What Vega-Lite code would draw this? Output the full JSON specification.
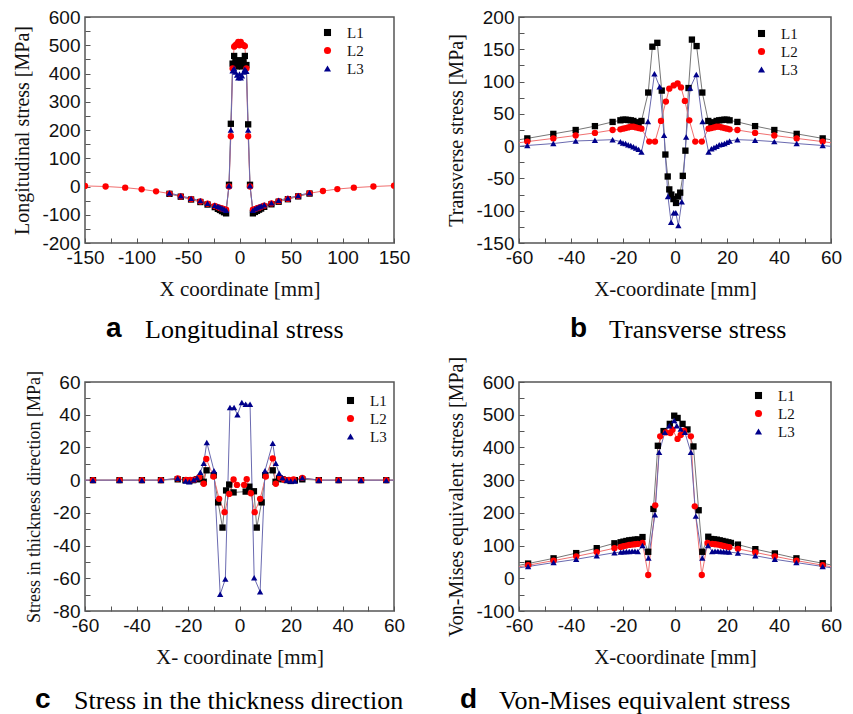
{
"$schema": "https://vega.github.io/schema/vega-lite/v6.json",
"padding": {"left": 12, "top": 7, "right": 0, "bottom": 0},
"background": "white",
"config": {
 "view": {"stroke": "#555", "strokeWidth": 1.5},
 "axis": {"grid": false, "domain": false, "tickColor": "#555", "tickSize": -5, "labelFont": "Liberation Sans", "labelFontSize": 19, "labelColor": "#111", "labelPadding": 10, "labelFlush": false, "labelOverlap": false, "titleFont": "Liberation Serif", "titleFontSize": 20, "titleFontWeight": "normal", "titleColor": "#111"},
 "axisX": {"titlePadding": 11, "titleFontSize": 21},
 "axisY": {"titlePadding": 9},
 "title": {"font": "Liberation Sans", "fontWeight": "bold", "fontSize": 28, "color": "#000", "subtitleFont": "Liberation Serif", "subtitleFontSize": 26, "subtitleColor": "#000", "subtitlePadding": -26, "orient": "bottom", "anchor": "start", "frame": "group"},
 "legend": {"orient": "none", "labelFont": "Liberation Serif", "labelFontSize": 15, "labelColor": "#111", "symbolSize": 50, "labelOffset": 12, "rowPadding": 2, "padding": 0}
},
"data": {"values": [
{"p":"a","s":"L1","x":-68,"y":-26},{"p":"a","s":"L1","x":-57,"y":-36},{"p":"a","s":"L1","x":-47,"y":-46},{"p":"a","s":"L1","x":-38,"y":-55},{"p":"a","s":"L1","x":-31,"y":-64},{"p":"a","s":"L1","x":-24,"y":-73},{"p":"a","s":"L1","x":-21,"y":-79},{"p":"a","s":"L1","x":-19,"y":-83},{"p":"a","s":"L1","x":-17,"y":-87},{"p":"a","s":"L1","x":-15,"y":-91},{"p":"a","s":"L1","x":-13,"y":-95},{"p":"a","s":"L1","x":-10.2,"y":6},{"p":"a","s":"L1","x":-8.4,"y":222},{"p":"a","s":"L1","x":-6.7,"y":435},{"p":"a","s":"L1","x":-5.2,"y":462},{"p":"a","s":"L1","x":-3.9,"y":440},{"p":"a","s":"L1","x":-2.4,"y":425},{"p":"a","s":"L1","x":-1.2,"y":430},{"p":"a","s":"L1","x":0,"y":447},{"p":"a","s":"L1","x":1.2,"y":430},{"p":"a","s":"L1","x":2.4,"y":425},{"p":"a","s":"L1","x":3.9,"y":440},{"p":"a","s":"L1","x":5.2,"y":462},{"p":"a","s":"L1","x":6.7,"y":430},{"p":"a","s":"L1","x":8.4,"y":220},{"p":"a","s":"L1","x":10.2,"y":6},{"p":"a","s":"L1","x":13,"y":-95},{"p":"a","s":"L1","x":15,"y":-90},{"p":"a","s":"L1","x":17,"y":-86},{"p":"a","s":"L1","x":19,"y":-82},{"p":"a","s":"L1","x":21,"y":-78},{"p":"a","s":"L1","x":24,"y":-72},{"p":"a","s":"L1","x":31,"y":-63},{"p":"a","s":"L1","x":38,"y":-54},{"p":"a","s":"L1","x":47,"y":-45},{"p":"a","s":"L1","x":57,"y":-35},{"p":"a","s":"L1","x":68,"y":-25},
{"p":"a","s":"L2","x":-150,"y":2},{"p":"a","s":"L2","x":-130,"y":0},{"p":"a","s":"L2","x":-111,"y":-4},{"p":"a","s":"L2","x":-95,"y":-10},{"p":"a","s":"L2","x":-81,"y":-17},{"p":"a","s":"L2","x":-68,"y":-25},{"p":"a","s":"L2","x":-57,"y":-35},{"p":"a","s":"L2","x":-47,"y":-45},{"p":"a","s":"L2","x":-38,"y":-53},{"p":"a","s":"L2","x":-31,"y":-61},{"p":"a","s":"L2","x":-24,"y":-69},{"p":"a","s":"L2","x":-21,"y":-73},{"p":"a","s":"L2","x":-19,"y":-76},{"p":"a","s":"L2","x":-17,"y":-78},{"p":"a","s":"L2","x":-15,"y":-80},{"p":"a","s":"L2","x":-13,"y":-82},{"p":"a","s":"L2","x":-10.2,"y":0},{"p":"a","s":"L2","x":-8.4,"y":178},{"p":"a","s":"L2","x":-6.7,"y":418},{"p":"a","s":"L2","x":-5.2,"y":495},{"p":"a","s":"L2","x":-3.9,"y":500},{"p":"a","s":"L2","x":-2.4,"y":505},{"p":"a","s":"L2","x":-1.2,"y":512},{"p":"a","s":"L2","x":0,"y":500},{"p":"a","s":"L2","x":1.2,"y":512},{"p":"a","s":"L2","x":2.4,"y":503},{"p":"a","s":"L2","x":3.9,"y":500},{"p":"a","s":"L2","x":5.2,"y":497},{"p":"a","s":"L2","x":6.7,"y":418},{"p":"a","s":"L2","x":8.4,"y":178},{"p":"a","s":"L2","x":10.2,"y":0},{"p":"a","s":"L2","x":13,"y":-82},{"p":"a","s":"L2","x":15,"y":-80},{"p":"a","s":"L2","x":17,"y":-77},{"p":"a","s":"L2","x":19,"y":-75},{"p":"a","s":"L2","x":21,"y":-72},{"p":"a","s":"L2","x":24,"y":-68},{"p":"a","s":"L2","x":31,"y":-60},{"p":"a","s":"L2","x":38,"y":-52},{"p":"a","s":"L2","x":47,"y":-44},{"p":"a","s":"L2","x":57,"y":-34},{"p":"a","s":"L2","x":68,"y":-24},{"p":"a","s":"L2","x":81,"y":-16},{"p":"a","s":"L2","x":95,"y":-9},{"p":"a","s":"L2","x":111,"y":-4},{"p":"a","s":"L2","x":130,"y":0},{"p":"a","s":"L2","x":150,"y":3},
{"p":"a","s":"L3","x":-68,"y":-23},{"p":"a","s":"L3","x":-57,"y":-33},{"p":"a","s":"L3","x":-47,"y":-42},{"p":"a","s":"L3","x":-38,"y":-50},{"p":"a","s":"L3","x":-31,"y":-59},{"p":"a","s":"L3","x":-24,"y":-66},{"p":"a","s":"L3","x":-21,"y":-70},{"p":"a","s":"L3","x":-19,"y":-73},{"p":"a","s":"L3","x":-17,"y":-76},{"p":"a","s":"L3","x":-15,"y":-80},{"p":"a","s":"L3","x":-13,"y":-84},{"p":"a","s":"L3","x":-10.2,"y":3},{"p":"a","s":"L3","x":-8.4,"y":200},{"p":"a","s":"L3","x":-6.7,"y":410},{"p":"a","s":"L3","x":-5.2,"y":418},{"p":"a","s":"L3","x":-3.9,"y":405},{"p":"a","s":"L3","x":-2.4,"y":395},{"p":"a","s":"L3","x":-1.2,"y":385},{"p":"a","s":"L3","x":0,"y":398},{"p":"a","s":"L3","x":1.2,"y":385},{"p":"a","s":"L3","x":2.4,"y":392},{"p":"a","s":"L3","x":3.9,"y":405},{"p":"a","s":"L3","x":5.2,"y":415},{"p":"a","s":"L3","x":6.7,"y":408},{"p":"a","s":"L3","x":8.4,"y":200},{"p":"a","s":"L3","x":10.2,"y":3},{"p":"a","s":"L3","x":13,"y":-84},{"p":"a","s":"L3","x":15,"y":-79},{"p":"a","s":"L3","x":17,"y":-75},{"p":"a","s":"L3","x":19,"y":-72},{"p":"a","s":"L3","x":21,"y":-69},{"p":"a","s":"L3","x":24,"y":-65},{"p":"a","s":"L3","x":31,"y":-58},{"p":"a","s":"L3","x":38,"y":-49},{"p":"a","s":"L3","x":47,"y":-41},{"p":"a","s":"L3","x":57,"y":-32},{"p":"a","s":"L3","x":68,"y":-22},

{"p":"b","s":"L1","x":-66,"y":6},{"p":"b","s":"L1","x":-56.8,"y":12},{"p":"b","s":"L1","x":-46.8,"y":19},{"p":"b","s":"L1","x":-38.2,"y":25},{"p":"b","s":"L1","x":-30.8,"y":31},{"p":"b","s":"L1","x":-24,"y":37.5},{"p":"b","s":"L1","x":-21,"y":40},{"p":"b","s":"L1","x":-20,"y":41},{"p":"b","s":"L1","x":-19,"y":41},{"p":"b","s":"L1","x":-18,"y":40.5},{"p":"b","s":"L1","x":-17,"y":40},{"p":"b","s":"L1","x":-16,"y":39},{"p":"b","s":"L1","x":-15,"y":37},{"p":"b","s":"L1","x":-14,"y":35},{"p":"b","s":"L1","x":-12.9,"y":39},{"p":"b","s":"L1","x":-10.3,"y":83},{"p":"b","s":"L1","x":-8.7,"y":154},{"p":"b","s":"L1","x":-6.8,"y":160},{"p":"b","s":"L1","x":-5.1,"y":86},{"p":"b","s":"L1","x":-3.7,"y":-13},{"p":"b","s":"L1","x":-2.8,"y":-47},{"p":"b","s":"L1","x":-2.2,"y":-67},{"p":"b","s":"L1","x":-1.4,"y":-75},{"p":"b","s":"L1","x":-0.6,"y":-82},{"p":"b","s":"L1","x":0.4,"y":-88},{"p":"b","s":"L1","x":1.2,"y":-78},{"p":"b","s":"L1","x":2,"y":-72},{"p":"b","s":"L1","x":3,"y":-46},{"p":"b","s":"L1","x":4,"y":-7},{"p":"b","s":"L1","x":5.2,"y":90},{"p":"b","s":"L1","x":6.5,"y":165},{"p":"b","s":"L1","x":8.3,"y":155},{"p":"b","s":"L1","x":10.5,"y":83},{"p":"b","s":"L1","x":12.8,"y":39},{"p":"b","s":"L1","x":14,"y":35},{"p":"b","s":"L1","x":15,"y":37},{"p":"b","s":"L1","x":16,"y":39},{"p":"b","s":"L1","x":17,"y":40},{"p":"b","s":"L1","x":18,"y":40.5},{"p":"b","s":"L1","x":19,"y":41},{"p":"b","s":"L1","x":20,"y":41},{"p":"b","s":"L1","x":21,"y":40},{"p":"b","s":"L1","x":24,"y":37.5},{"p":"b","s":"L1","x":30.8,"y":31},{"p":"b","s":"L1","x":38.2,"y":25},{"p":"b","s":"L1","x":46.8,"y":19},{"p":"b","s":"L1","x":56.8,"y":12},{"p":"b","s":"L1","x":66,"y":6},
{"p":"b","s":"L2","x":-66,"y":2},{"p":"b","s":"L2","x":-56.8,"y":7},{"p":"b","s":"L2","x":-46.8,"y":12},{"p":"b","s":"L2","x":-38.2,"y":16.5},{"p":"b","s":"L2","x":-30.8,"y":20.5},{"p":"b","s":"L2","x":-24,"y":25},{"p":"b","s":"L2","x":-21,"y":26},{"p":"b","s":"L2","x":-20,"y":27},{"p":"b","s":"L2","x":-19,"y":28},{"p":"b","s":"L2","x":-18,"y":29},{"p":"b","s":"L2","x":-17,"y":30},{"p":"b","s":"L2","x":-16,"y":30},{"p":"b","s":"L2","x":-15,"y":29},{"p":"b","s":"L2","x":-14,"y":28},{"p":"b","s":"L2","x":-12.9,"y":27},{"p":"b","s":"L2","x":-9.9,"y":7},{"p":"b","s":"L2","x":-7.7,"y":7},{"p":"b","s":"L2","x":-5.4,"y":39},{"p":"b","s":"L2","x":-3.5,"y":69},{"p":"b","s":"L2","x":-2.2,"y":89},{"p":"b","s":"L2","x":-0.5,"y":94},{"p":"b","s":"L2","x":1,"y":97},{"p":"b","s":"L2","x":2.3,"y":91},{"p":"b","s":"L2","x":3.8,"y":70},{"p":"b","s":"L2","x":5.5,"y":40},{"p":"b","s":"L2","x":7.8,"y":7},{"p":"b","s":"L2","x":10.3,"y":7},{"p":"b","s":"L2","x":12.9,"y":27},{"p":"b","s":"L2","x":14,"y":28},{"p":"b","s":"L2","x":15,"y":29},{"p":"b","s":"L2","x":16,"y":30},{"p":"b","s":"L2","x":17,"y":30},{"p":"b","s":"L2","x":18,"y":29},{"p":"b","s":"L2","x":19,"y":28},{"p":"b","s":"L2","x":20,"y":27},{"p":"b","s":"L2","x":21,"y":26},{"p":"b","s":"L2","x":24,"y":25},{"p":"b","s":"L2","x":30.8,"y":20.5},{"p":"b","s":"L2","x":38.2,"y":16.5},{"p":"b","s":"L2","x":46.8,"y":12},{"p":"b","s":"L2","x":56.8,"y":7},{"p":"b","s":"L2","x":66,"y":2},
{"p":"b","s":"L3","x":-66,"y":-3},{"p":"b","s":"L3","x":-56.8,"y":1},{"p":"b","s":"L3","x":-46.8,"y":4},{"p":"b","s":"L3","x":-38.2,"y":8},{"p":"b","s":"L3","x":-30.8,"y":9},{"p":"b","s":"L3","x":-24,"y":10},{"p":"b","s":"L3","x":-21,"y":7},{"p":"b","s":"L3","x":-20,"y":5},{"p":"b","s":"L3","x":-19,"y":4},{"p":"b","s":"L3","x":-18,"y":2},{"p":"b","s":"L3","x":-17,"y":1},{"p":"b","s":"L3","x":-16,"y":-1},{"p":"b","s":"L3","x":-15,"y":-3},{"p":"b","s":"L3","x":-14,"y":-5},{"p":"b","s":"L3","x":-12.9,"y":-9},{"p":"b","s":"L3","x":-10.4,"y":38},{"p":"b","s":"L3","x":-7.9,"y":112},{"p":"b","s":"L3","x":-5.9,"y":92},{"p":"b","s":"L3","x":-4.2,"y":17},{"p":"b","s":"L3","x":-2.7,"y":-78},{"p":"b","s":"L3","x":-1.5,"y":-118},{"p":"b","s":"L3","x":-0.5,"y":-103},{"p":"b","s":"L3","x":0.3,"y":-103},{"p":"b","s":"L3","x":1.3,"y":-123},{"p":"b","s":"L3","x":2.6,"y":-86},{"p":"b","s":"L3","x":4.3,"y":14},{"p":"b","s":"L3","x":5.8,"y":90},{"p":"b","s":"L3","x":8.2,"y":111},{"p":"b","s":"L3","x":10.6,"y":38},{"p":"b","s":"L3","x":12.9,"y":-9},{"p":"b","s":"L3","x":14,"y":-4},{"p":"b","s":"L3","x":15,"y":-2},{"p":"b","s":"L3","x":16,"y":0},{"p":"b","s":"L3","x":17,"y":2},{"p":"b","s":"L3","x":18,"y":3},{"p":"b","s":"L3","x":19,"y":4},{"p":"b","s":"L3","x":20,"y":6},{"p":"b","s":"L3","x":21,"y":8},{"p":"b","s":"L3","x":24,"y":10},{"p":"b","s":"L3","x":30.8,"y":9},{"p":"b","s":"L3","x":38.2,"y":7},{"p":"b","s":"L3","x":46.8,"y":4},{"p":"b","s":"L3","x":56.8,"y":1},{"p":"b","s":"L3","x":66,"y":-3},

{"p":"c","s":"L1","x":-66,"y":0},{"p":"c","s":"L1","x":-56.9,"y":0},{"p":"c","s":"L1","x":-46.6,"y":0},{"p":"c","s":"L1","x":-37.9,"y":0},{"p":"c","s":"L1","x":-30.5,"y":0},{"p":"c","s":"L1","x":-24,"y":0.5},{"p":"c","s":"L1","x":-21,"y":0},{"p":"c","s":"L1","x":-19.5,"y":-0.5},{"p":"c","s":"L1","x":-18,"y":0},{"p":"c","s":"L1","x":-16.5,"y":0.5},{"p":"c","s":"L1","x":-15.2,"y":1},{"p":"c","s":"L1","x":-13.9,"y":-1},{"p":"c","s":"L1","x":-12.8,"y":6},{"p":"c","s":"L1","x":-10,"y":3},{"p":"c","s":"L1","x":-8.3,"y":-13.6},{"p":"c","s":"L1","x":-6.6,"y":-29},{"p":"c","s":"L1","x":-5.2,"y":-6.3},{"p":"c","s":"L1","x":-4,"y":-2.7},{"p":"c","s":"L1","x":-2.3,"y":-7.5},{"p":"c","s":"L1","x":2.4,"y":-7},{"p":"c","s":"L1","x":3.8,"y":-4},{"p":"c","s":"L1","x":5.6,"y":-6.8},{"p":"c","s":"L1","x":6.7,"y":-29},{"p":"c","s":"L1","x":8.6,"y":-13.6},{"p":"c","s":"L1","x":10,"y":3},{"p":"c","s":"L1","x":12.9,"y":6},{"p":"c","s":"L1","x":14,"y":-1},{"p":"c","s":"L1","x":15.4,"y":1},{"p":"c","s":"L1","x":16.7,"y":0.5},{"p":"c","s":"L1","x":18.4,"y":0},{"p":"c","s":"L1","x":19.9,"y":-0.5},{"p":"c","s":"L1","x":21.5,"y":0},{"p":"c","s":"L1","x":24.4,"y":0.5},{"p":"c","s":"L1","x":30.8,"y":0},{"p":"c","s":"L1","x":38.5,"y":0},{"p":"c","s":"L1","x":47.2,"y":0},{"p":"c","s":"L1","x":57,"y":0},{"p":"c","s":"L1","x":66,"y":0},
{"p":"c","s":"L2","x":-66,"y":0},{"p":"c","s":"L2","x":-56.9,"y":0},{"p":"c","s":"L2","x":-46.6,"y":0},{"p":"c","s":"L2","x":-37.9,"y":0},{"p":"c","s":"L2","x":-30.5,"y":0},{"p":"c","s":"L2","x":-24,"y":1},{"p":"c","s":"L2","x":-20.8,"y":0.2},{"p":"c","s":"L2","x":-19.1,"y":0.2},{"p":"c","s":"L2","x":-17.6,"y":0.3},{"p":"c","s":"L2","x":-15.6,"y":1.8},{"p":"c","s":"L2","x":-13.9,"y":-2.2},{"p":"c","s":"L2","x":-12.9,"y":13},{"p":"c","s":"L2","x":-10.1,"y":2.2},{"p":"c","s":"L2","x":-7.9,"y":-11.4},{"p":"c","s":"L2","x":-5.8,"y":-19.6},{"p":"c","s":"L2","x":-4,"y":-8.4},{"p":"c","s":"L2","x":-2.3,"y":0.4},{"p":"c","s":"L2","x":-1,"y":-2.9},{"p":"c","s":"L2","x":1.8,"y":-2.9},{"p":"c","s":"L2","x":2.8,"y":0.6},{"p":"c","s":"L2","x":4.4,"y":-8},{"p":"c","s":"L2","x":5.9,"y":-19.6},{"p":"c","s":"L2","x":8,"y":-11.4},{"p":"c","s":"L2","x":10.2,"y":2.2},{"p":"c","s":"L2","x":12.9,"y":13.3},{"p":"c","s":"L2","x":14.1,"y":-2.2},{"p":"c","s":"L2","x":15.8,"y":1.4},{"p":"c","s":"L2","x":17.3,"y":0.3},{"p":"c","s":"L2","x":19.2,"y":0.2},{"p":"c","s":"L2","x":21,"y":0.5},{"p":"c","s":"L2","x":24.4,"y":1.4},{"p":"c","s":"L2","x":30.8,"y":0},{"p":"c","s":"L2","x":38.5,"y":0},{"p":"c","s":"L2","x":47.2,"y":0},{"p":"c","s":"L2","x":57,"y":0},{"p":"c","s":"L2","x":66,"y":0},
{"p":"c","s":"L3","x":-66,"y":0},{"p":"c","s":"L3","x":-56.9,"y":0},{"p":"c","s":"L3","x":-46.6,"y":0},{"p":"c","s":"L3","x":-37.9,"y":0},{"p":"c","s":"L3","x":-30.5,"y":0},{"p":"c","s":"L3","x":-24,"y":1.2},{"p":"c","s":"L3","x":-20.9,"y":-0.5},{"p":"c","s":"L3","x":-19.5,"y":-1},{"p":"c","s":"L3","x":-17.8,"y":0.3},{"p":"c","s":"L3","x":-16.5,"y":1.4},{"p":"c","s":"L3","x":-15.2,"y":4.8},{"p":"c","s":"L3","x":-13.9,"y":10.3},{"p":"c","s":"L3","x":-12.7,"y":23},{"p":"c","s":"L3","x":-9.9,"y":5.8},{"p":"c","s":"L3","x":-7.5,"y":-69.8},{"p":"c","s":"L3","x":-5.5,"y":-60.5},{"p":"c","s":"L3","x":-3.7,"y":44.4},{"p":"c","s":"L3","x":-2.1,"y":44.4},{"p":"c","s":"L3","x":-0.8,"y":40},{"p":"c","s":"L3","x":0.9,"y":47.4},{"p":"c","s":"L3","x":2.4,"y":46.4},{"p":"c","s":"L3","x":4.1,"y":46.4},{"p":"c","s":"L3","x":5.7,"y":-59.7},{"p":"c","s":"L3","x":8,"y":-68.2},{"p":"c","s":"L3","x":9.9,"y":5.8},{"p":"c","s":"L3","x":12.9,"y":22.6},{"p":"c","s":"L3","x":14.1,"y":10.3},{"p":"c","s":"L3","x":15.4,"y":4.2},{"p":"c","s":"L3","x":16.7,"y":1.4},{"p":"c","s":"L3","x":18.4,"y":0},{"p":"c","s":"L3","x":19.9,"y":-0.5},{"p":"c","s":"L3","x":21.5,"y":-0.5},{"p":"c","s":"L3","x":24.4,"y":1.4},{"p":"c","s":"L3","x":30.8,"y":0},{"p":"c","s":"L3","x":38.5,"y":0},{"p":"c","s":"L3","x":47.2,"y":0},{"p":"c","s":"L3","x":57,"y":0},{"p":"c","s":"L3","x":66,"y":0},

{"p":"d","s":"L1","x":-66,"y":31},{"p":"d","s":"L1","x":-56.5,"y":45},{"p":"d","s":"L1","x":-46.7,"y":61},{"p":"d","s":"L1","x":-38,"y":77},{"p":"d","s":"L1","x":-30.1,"y":92},{"p":"d","s":"L1","x":-23.3,"y":107},{"p":"d","s":"L1","x":-20.9,"y":110},{"p":"d","s":"L1","x":-19.8,"y":112},{"p":"d","s":"L1","x":-18.7,"y":114},{"p":"d","s":"L1","x":-17.6,"y":116},{"p":"d","s":"L1","x":-16.5,"y":117},{"p":"d","s":"L1","x":-15.4,"y":118},{"p":"d","s":"L1","x":-14.3,"y":119},{"p":"d","s":"L1","x":-12.5,"y":126},{"p":"d","s":"L1","x":-10.3,"y":81},{"p":"d","s":"L1","x":-8.3,"y":212},{"p":"d","s":"L1","x":-6.6,"y":405},{"p":"d","s":"L1","x":-4.4,"y":450},{"p":"d","s":"L1","x":-2,"y":472},{"p":"d","s":"L1","x":-0.3,"y":497},{"p":"d","s":"L1","x":1,"y":490},{"p":"d","s":"L1","x":2.9,"y":472},{"p":"d","s":"L1","x":4.8,"y":455},{"p":"d","s":"L1","x":7.1,"y":403},{"p":"d","s":"L1","x":9.1,"y":208},{"p":"d","s":"L1","x":10.5,"y":81},{"p":"d","s":"L1","x":12.8,"y":127},{"p":"d","s":"L1","x":13.9,"y":120},{"p":"d","s":"L1","x":15,"y":119},{"p":"d","s":"L1","x":16.1,"y":118},{"p":"d","s":"L1","x":17.2,"y":116},{"p":"d","s":"L1","x":18.3,"y":114},{"p":"d","s":"L1","x":19.4,"y":112},{"p":"d","s":"L1","x":20.5,"y":110},{"p":"d","s":"L1","x":21.5,"y":108},{"p":"d","s":"L1","x":24.2,"y":103},{"p":"d","s":"L1","x":30.9,"y":89},{"p":"d","s":"L1","x":38.4,"y":76},{"p":"d","s":"L1","x":46.7,"y":61},{"p":"d","s":"L1","x":56.8,"y":46},{"p":"d","s":"L1","x":66,"y":31},
{"p":"d","s":"L2","x":-66,"y":27},{"p":"d","s":"L2","x":-56.5,"y":40},{"p":"d","s":"L2","x":-46.7,"y":54},{"p":"d","s":"L2","x":-38,"y":67},{"p":"d","s":"L2","x":-30.1,"y":80},{"p":"d","s":"L2","x":-23.3,"y":92},{"p":"d","s":"L2","x":-20.9,"y":96},{"p":"d","s":"L2","x":-19.8,"y":98},{"p":"d","s":"L2","x":-18.7,"y":100},{"p":"d","s":"L2","x":-17.6,"y":102},{"p":"d","s":"L2","x":-16.5,"y":103},{"p":"d","s":"L2","x":-15.4,"y":104},{"p":"d","s":"L2","x":-14.3,"y":105},{"p":"d","s":"L2","x":-12.5,"y":108},{"p":"d","s":"L2","x":-10.3,"y":10},{"p":"d","s":"L2","x":-7.6,"y":223},{"p":"d","s":"L2","x":-5.7,"y":434},{"p":"d","s":"L2","x":-3.5,"y":446},{"p":"d","s":"L2","x":-1.8,"y":444},{"p":"d","s":"L2","x":-0.95,"y":454},{"p":"d","s":"L2","x":0.97,"y":426},{"p":"d","s":"L2","x":2.2,"y":438},{"p":"d","s":"L2","x":3.5,"y":451},{"p":"d","s":"L2","x":6.1,"y":434},{"p":"d","s":"L2","x":7.6,"y":220},{"p":"d","s":"L2","x":10.3,"y":10},{"p":"d","s":"L2","x":12.5,"y":108},{"p":"d","s":"L2","x":14.3,"y":105},{"p":"d","s":"L2","x":15.4,"y":104},{"p":"d","s":"L2","x":16.5,"y":103},{"p":"d","s":"L2","x":17.6,"y":101},{"p":"d","s":"L2","x":18.7,"y":99},{"p":"d","s":"L2","x":19.8,"y":97},{"p":"d","s":"L2","x":20.9,"y":95},{"p":"d","s":"L2","x":24.2,"y":90},{"p":"d","s":"L2","x":30.9,"y":79},{"p":"d","s":"L2","x":38.4,"y":67},{"p":"d","s":"L2","x":46.7,"y":54},{"p":"d","s":"L2","x":56.8,"y":40},{"p":"d","s":"L2","x":66,"y":27},
{"p":"d","s":"L3","x":-66,"y":25},{"p":"d","s":"L3","x":-56.5,"y":36},{"p":"d","s":"L3","x":-46.7,"y":48},{"p":"d","s":"L3","x":-38,"y":58},{"p":"d","s":"L3","x":-30.1,"y":69},{"p":"d","s":"L3","x":-23.3,"y":78},{"p":"d","s":"L3","x":-20.9,"y":80},{"p":"d","s":"L3","x":-19.8,"y":81},{"p":"d","s":"L3","x":-18.7,"y":82},{"p":"d","s":"L3","x":-17.6,"y":82},{"p":"d","s":"L3","x":-16.5,"y":83},{"p":"d","s":"L3","x":-15.4,"y":83},{"p":"d","s":"L3","x":-14.3,"y":82},{"p":"d","s":"L3","x":-12.5,"y":100},{"p":"d","s":"L3","x":-10.2,"y":62},{"p":"d","s":"L3","x":-7.7,"y":194},{"p":"d","s":"L3","x":-6.1,"y":385},{"p":"d","s":"L3","x":-3.9,"y":446},{"p":"d","s":"L3","x":-2.2,"y":466},{"p":"d","s":"L3","x":-0.3,"y":482},{"p":"d","s":"L3","x":0.7,"y":466},{"p":"d","s":"L3","x":2.2,"y":456},{"p":"d","s":"L3","x":3.8,"y":446},{"p":"d","s":"L3","x":6.1,"y":385},{"p":"d","s":"L3","x":8,"y":190},{"p":"d","s":"L3","x":10.5,"y":62},{"p":"d","s":"L3","x":12.7,"y":100},{"p":"d","s":"L3","x":14.3,"y":82},{"p":"d","s":"L3","x":15.4,"y":83},{"p":"d","s":"L3","x":16.5,"y":83},{"p":"d","s":"L3","x":17.6,"y":82},{"p":"d","s":"L3","x":18.7,"y":82},{"p":"d","s":"L3","x":19.8,"y":81},{"p":"d","s":"L3","x":20.9,"y":80},{"p":"d","s":"L3","x":24.2,"y":77},{"p":"d","s":"L3","x":30.9,"y":69},{"p":"d","s":"L3","x":38.4,"y":58},{"p":"d","s":"L3","x":46.7,"y":48},{"p":"d","s":"L3","x":56.8,"y":36},{"p":"d","s":"L3","x":66,"y":25}
]},
"columns": 2,
"spacing": {"row": 139, "column": 125},
"bounds": "flush",
"resolve": {"scale": {"color": "independent", "shape": "independent", "stroke": "independent"}, "legend": {"color": "independent", "shape": "independent", "stroke": "independent"}},
"concat": [
 {
  "width": 309, "height": 226,
  "title": {"text": "a", "subtitle": "\u200b\u00a0\u00a0\u00a0\u00a0\u00a0\u00a0Longitudinal stress", "dx": 21, "offset": 16},
  "transform": [{"filter": "datum.p == 'a'"}],
  "encoding": {
   "x": {"field": "x", "type": "quantitative", "scale": {"domain": [-150, 150], "nice": false, "zero": false}, "axis": {"title": "X coordinate [mm]", "values": [-150,-125,-100,-75,-50,-25,0,25,50,75,100,125,150], "labelExpr": "datum.value % 50 === 0 ? '' + datum.value : ''"}},
   "y": {"field": "y", "type": "quantitative", "scale": {"domain": [-200, 600], "nice": false, "zero": false}, "axis": {"title": "Longitudinal stress [MPa]", "values": [-200,-150,-100,-50,0,50,100,150,200,250,300,350,400,450,500,550,600], "labelExpr": "datum.value % 100 === 0 ? '' + datum.value : ''"}}
  },
  "layer": [
   {"mark": {"type": "line", "strokeWidth": 1, "clip": true}, "encoding": {"stroke": {"field": "s", "type": "nominal", "scale": {"range": ["#777777","#f07070","#6a6ab0"]}, "legend": null}}},
   {"mark": {"type": "point", "filled": true, "size": 40, "opacity": 1, "clip": true}, "encoding": {
     "shape": {"field": "s", "type": "nominal", "title": null, "scale": {"domain": ["L1","L2","L3"], "range": ["square","circle","triangle-up"]}, "legend": {"orient": "none", "legendX": 235, "legendY": 8}},
     "color": {"field": "s", "type": "nominal", "title": null, "scale": {"domain": ["L1","L2","L3"], "range": ["#000000","#ff0000","#00008b"]}, "legend": {"orient": "none", "legendX": 235, "legendY": 8}}
   }}
  ]
 },
 {
  "width": 312, "height": 226,
  "title": {"text": "b", "subtitle": "\u200b\u00a0\u00a0\u00a0\u00a0\u00a0\u00a0Transverse stress", "dx": 51, "offset": 16},
  "transform": [{"filter": "datum.p == 'b'"}],
  "encoding": {
   "x": {"field": "x", "type": "quantitative", "scale": {"domain": [-60, 60], "nice": false, "zero": false}, "axis": {"title": "X-coordinate [mm]", "values": [-60,-50,-40,-30,-20,-10,0,10,20,30,40,50,60], "labelExpr": "datum.value % 20 === 0 ? '' + datum.value : ''"}},
   "y": {"field": "y", "type": "quantitative", "scale": {"domain": [-150, 200], "nice": false, "zero": false}, "axis": {"title": "Transverse stress [MPa]", "values": [-150,-125,-100,-75,-50,-25,0,25,50,75,100,125,150,175,200], "labelExpr": "datum.value % 50 === 0 ? '' + datum.value : ''"}}
  },
  "layer": [
   {"mark": {"type": "line", "strokeWidth": 1, "clip": true}, "encoding": {"stroke": {"field": "s", "type": "nominal", "scale": {"range": ["#777777","#f07070","#6a6ab0"]}, "legend": null}}},
   {"mark": {"type": "point", "filled": true, "size": 40, "opacity": 1, "clip": true}, "encoding": {
     "shape": {"field": "s", "type": "nominal", "title": null, "scale": {"domain": ["L1","L2","L3"], "range": ["square","circle","triangle-up"]}, "legend": {"orient": "none", "legendX": 235, "legendY": 9}},
     "color": {"field": "s", "type": "nominal", "title": null, "scale": {"domain": ["L1","L2","L3"], "range": ["#000000","#ff0000","#00008b"]}, "legend": {"orient": "none", "legendX": 235, "legendY": 9}}
   }}
  ]
 },
 {
  "width": 309, "height": 229,
  "title": {"text": "c", "subtitle": "\u200b\u00a0\u00a0\u00a0\u00a0\u00a0\u00a0Stress in the thickness direction", "dx": -50, "offset": 19},
  "transform": [{"filter": "datum.p == 'c'"}],
  "encoding": {
   "x": {"field": "x", "type": "quantitative", "scale": {"domain": [-60, 60], "nice": false, "zero": false}, "axis": {"title": "X- coordinate [mm]", "values": [-60,-50,-40,-30,-20,-10,0,10,20,30,40,50,60], "labelExpr": "datum.value % 20 === 0 ? '' + datum.value : ''"}},
   "y": {"field": "y", "type": "quantitative", "scale": {"domain": [-80, 60], "nice": false, "zero": false}, "axis": {"title": "Stress in thickness direction [MPa]", "titleFontSize": 18, "values": [-80,-70,-60,-50,-40,-30,-20,-10,0,10,20,30,40,50,60], "labelExpr": "datum.value % 20 === 0 ? '' + datum.value : ''"}}
  },
  "layer": [
   {"mark": {"type": "line", "strokeWidth": 1, "clip": true}, "encoding": {"stroke": {"field": "s", "type": "nominal", "scale": {"range": ["#777777","#f07070","#6a6ab0"]}, "legend": null}}},
   {"mark": {"type": "point", "filled": true, "size": 40, "opacity": 1, "clip": true}, "encoding": {
     "shape": {"field": "s", "type": "nominal", "title": null, "scale": {"domain": ["L1","L2","L3"], "range": ["square","circle","triangle-up"]}, "legend": {"orient": "none", "legendX": 258, "legendY": 11}},
     "color": {"field": "s", "type": "nominal", "title": null, "scale": {"domain": ["L1","L2","L3"], "range": ["#000000","#ff0000","#00008b"]}, "legend": {"orient": "none", "legendX": 258, "legendY": 11}}
   }}
  ]
 },
 {
  "width": 312, "height": 229,
  "title": {"text": "d", "subtitle": "\u200b\u00a0\u00a0\u00a0\u00a0\u00a0\u00a0Von-Mises equivalent stress", "dx": -59, "offset": 19},
  "transform": [{"filter": "datum.p == 'd'"}],
  "encoding": {
   "x": {"field": "x", "type": "quantitative", "scale": {"domain": [-60, 60], "nice": false, "zero": false}, "axis": {"title": "X-coordinate [mm]", "values": [-60,-50,-40,-30,-20,-10,0,10,20,30,40,50,60], "labelExpr": "datum.value % 20 === 0 ? '' + datum.value : ''"}},
   "y": {"field": "y", "type": "quantitative", "scale": {"domain": [-100, 600], "nice": false, "zero": false}, "axis": {"title": "Von-Mises equivalent stress [MPa]", "values": [-100,-50,0,50,100,150,200,250,300,350,400,450,500,550,600], "labelExpr": "datum.value % 100 === 0 ? '' + datum.value : ''"}}
  },
  "layer": [
   {"mark": {"type": "line", "strokeWidth": 1, "clip": true}, "encoding": {"stroke": {"field": "s", "type": "nominal", "scale": {"range": ["#777777","#f07070","#6a6ab0"]}, "legend": null}}},
   {"mark": {"type": "point", "filled": true, "size": 40, "opacity": 1, "clip": true}, "encoding": {
     "shape": {"field": "s", "type": "nominal", "title": null, "scale": {"domain": ["L1","L2","L3"], "range": ["square","circle","triangle-up"]}, "legend": {"orient": "none", "legendX": 232, "legendY": 6}},
     "color": {"field": "s", "type": "nominal", "title": null, "scale": {"domain": ["L1","L2","L3"], "range": ["#000000","#ff0000","#00008b"]}, "legend": {"orient": "none", "legendX": 232, "legendY": 6}}
   }}
  ]
 }
]
}
